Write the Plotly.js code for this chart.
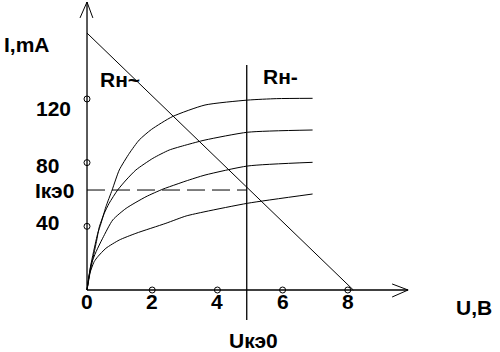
<!DOCTYPE html>
<html>
<head>
<meta charset="utf-8">
<script src="https://cdn.plot.ly/plotly-3.0.1.min.js"></script>
<style>html,body{margin:0;padding:0;background:#fff;}#chart{width:500px;height:352px;}</style>
</head>
<body>
<div id="chart"></div>
<script>
// Output characteristics (U in V, I in mA)
const u1 = [0, 0.12, 0.28, 0.33, 0.43, 0.58, 0.77, 0.99, 1.30, 1.60, 1.98, 2.62, 3.62, 4.93, 5.82, 6.92];
const i1 = [0, 16, 31.4, 35.6, 41.9, 52.3, 62.8, 75.4, 85.9, 94.2, 100.9, 108.9, 116.2, 119.3, 120.2, 120.4];
const u2 = [0, 0.12, 0.29, 0.38, 0.53, 0.68, 0.94, 1.20, 1.50, 2.02, 2.52, 3.04, 3.62, 4.93, 6.92];
const i2 = [0, 13.8, 30.5, 39.8, 48.2, 54.5, 62.8, 69.1, 75.4, 82.7, 87.9, 91.1, 94.2, 99.1, 100.5];
const u3 = [0, 0.12, 0.28, 0.48, 0.79, 1.20, 1.81, 2.32, 2.73, 3.04, 3.62, 4.93, 6.92];
const i3 = [0, 15.7, 24.1, 32.5, 44.0, 51.3, 58.6, 63.3, 66.3, 68.5, 72.2, 77.9, 80.2];
const u4 = [0, 0.07, 0.22, 0.33, 0.58, 0.99, 1.50, 2.42, 3.04, 3.62, 4.93, 6.92];
const i4 = [0, 9.4, 17.8, 20.9, 26.2, 31.4, 35.6, 41.9, 46.5, 49.2, 54.5, 60.3];

// Load line and quiescent point
const loadU = [0, 8.17];
const loadI = [161.4, 0];
const qU = 4.9;     // Uкэ0
const qI = 62.8;    // Iкэ0
const vLineI = [141.3, -18.8];

// Axis ticks
const xTicks = [0, 2, 4, 6, 8];
const xTickMarks = [2, 4, 6, 8];
const yTickMarks = [40, 80, 120];
const yTickLabels = ['120', '80', '40'];

// Axis extents
const xAxisEnd = 9.85;
const yAxisEnd = 180.9;

const FONT = {family: 'Liberation Sans, Arial, sans-serif', size: 21, color: '#000'};
const thin = {color: '#000', width: 1};
const axisLine = {color: '#000', width: 1.3};

const traces = [];
[[u1,i1],[u2,i2],[u3,i3],[u4,i4]].forEach(([u,i]) => {
  traces.push({x: u, y: i, mode: 'lines', line: Object.assign({shape: 'spline', smoothing: 0.6}, thin), hoverinfo: 'skip'});
});
// load line
traces.push({x: loadU, y: loadI, mode: 'lines', line: thin});
// dashed Iкэ0 line
traces.push({x: [0, qU], y: [qI, qI], mode: 'lines', line: {color: '#000', width: 1, dash: '18px,7px'}});
// vertical Uкэ0 line
traces.push({x: [qU, qU], y: vLineI, mode: 'lines', line: axisLine});
// axes with arrows
traces.push({x: [0, xAxisEnd], y: [0, 0], mode: 'lines', line: axisLine});
traces.push({x: [xAxisEnd - 0.49, xAxisEnd, xAxisEnd - 0.49], y: [3.8, 0, -4.4], mode: 'lines', line: thin});
traces.push({x: [0, 0], y: [0, yAxisEnd], mode: 'lines', line: axisLine});
traces.push({x: [-0.215, 0, 0.18], y: [yAxisEnd - 10, yAxisEnd, yAxisEnd - 10], mode: 'lines', line: thin});
// tick circles
traces.push({x: xTickMarks, y: xTickMarks.map(() => 0), mode: 'markers',
  marker: {symbol: 'circle-open', size: 6, color: '#000', line: {width: 1, color: '#000'}}});
traces.push({x: yTickMarks.map(() => 0), y: yTickMarks, mode: 'markers',
  marker: {symbol: 'circle-open', size: 6, color: '#000', line: {width: 1, color: '#000'}}});

const ann = [];
function txt(text, x, y, xanchor) {
  ann.push({text: text, x: x, y: y, xref: 'x', yref: 'y', showarrow: false,
    xanchor: xanchor || 'center', yanchor: 'middle', font: FONT});
}
xTicks.forEach(v => txt('<b>' + v + '</b>', v, -7.2, 'center'));
const yLabelPos = [113.7, 78.1, 42.4];
yTickLabels.forEach((t, k) => txt('<b>' + t + '</b>', -1.62, yLabelPos[k], 'left'));
txt('<b>Iкэ0</b>', -1.66, 62.5, 'left');
txt('<b>I,mA</b>', -2.62, 153.9, 'left');
txt('<b>Rн~</b>', 1.01, 132.5, 'center');
txt('<b>Rн-</b>', 5.95, 133.8, 'center');
txt('<b>U,B</b>', 11.27, -10.7, 'left');
txt('<b>Uкэ0</b>', 5.12, -31.4, 'center');

const layout = {
  width: 500, height: 352,
  margin: {l: 0, r: 0, t: 0, b: 0},
  paper_bgcolor: '#fff', plot_bgcolor: '#fff',
  showlegend: false,
  xaxis: {range: [-2.669, 12.669], visible: false, fixedrange: true},
  yaxis: {range: [-38.94, 182.16], visible: false, fixedrange: true},
  annotations: ann
};
Plotly.newPlot('chart', traces, layout, {displayModeBar: false, staticPlot: true});
</script>
</body>
</html>
